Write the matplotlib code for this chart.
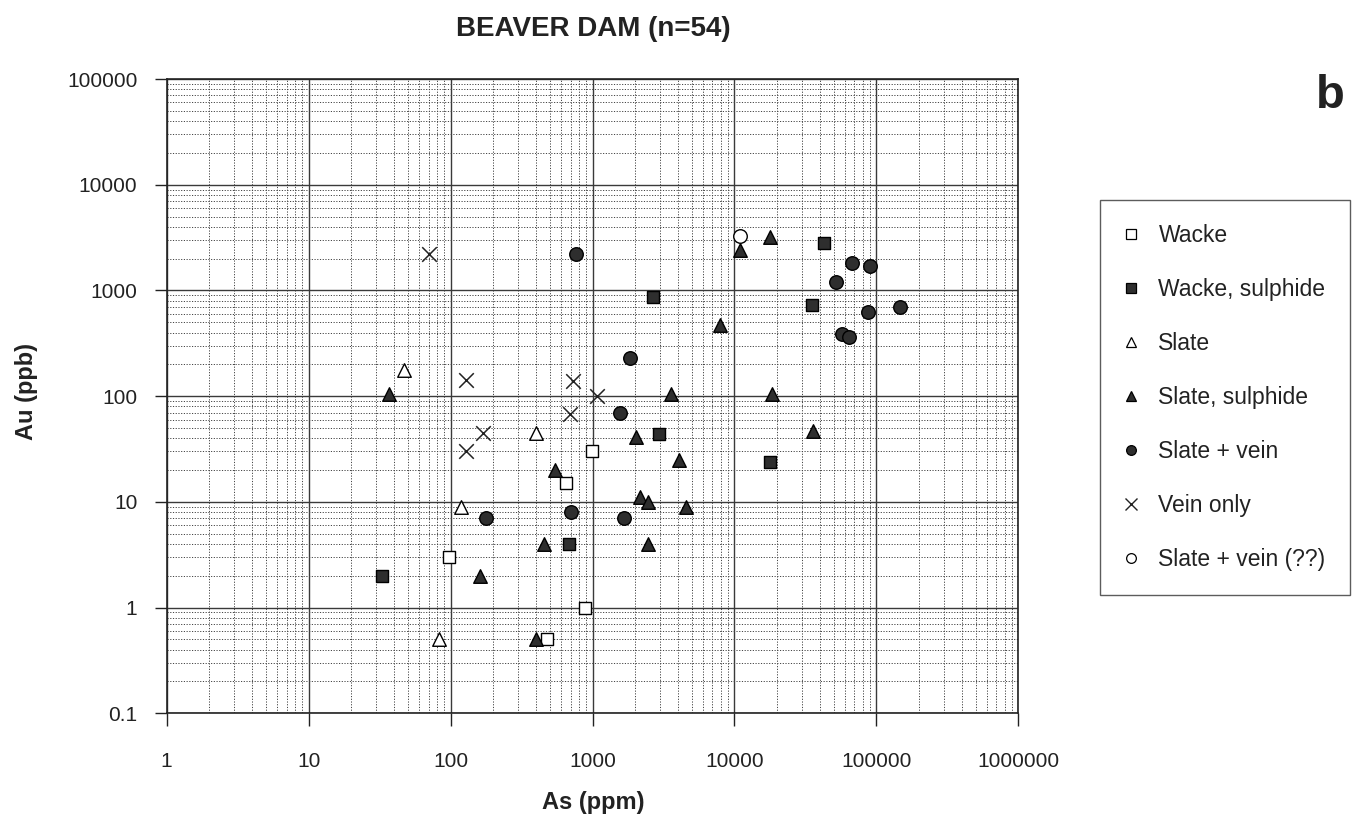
import numpy as np
import matplotlib
matplotlib.use("Agg")
import matplotlib.pyplot as plt
from matplotlib.lines import Line2D
from matplotlib.ticker import FixedLocator, LogLocator, NullFormatter

plt.rcParams['font.family'] = ['Liberation Sans', 'DejaVu Sans']

# data: As (ppm) vs Au (ppb)
wacke_as = [985, 650, 98, 880, 480]
wacke_au = [30, 15, 3, 1, 0.5]
wacke_s_as = [33, 685, 2650, 2930, 17700, 43000, 35400]
wacke_s_au = [2, 4, 870, 44, 24, 2800, 730]
slate_as = [47, 400, 119, 83]
slate_au = [175, 45, 9, 0.5]
slate_s_as = [37, 540, 160, 456, 400, 3600, 18500, 2040, 4100, 36000,
              2150, 2460, 4540, 2460, 7900, 10900, 17700]
slate_s_au = [105, 20, 2, 4, 0.5, 105, 105, 41, 25, 47,
              11, 10, 9, 4, 470, 2400, 3200]
slate_v_as = [760, 177, 700, 1850, 1560, 1670, 67000, 90000, 52000,
              146000, 87000, 57000, 64000]
slate_v_au = [2200, 7, 8, 228, 69, 7, 1800, 1700, 1200, 700, 630, 385, 365]
vein_as = [71, 128, 730, 1070, 128, 168, 690]
vein_au = [2200, 142, 138, 100, 30, 45, 68]
slate_vq_as = [10900]
slate_vq_au = [3250]

x_ticks = [1, 10, 100, 1000, 10000, 100000, 1000000]
x_labels = ['1', '10', '100', '1000', '10000', '100000', '1000000']
y_ticks = [0.1, 1, 10, 100, 1000, 10000, 100000]
y_labels = ['0.1', '1', '10', '100', '1000', '10000', '100000']

dark = '#2e2e2e'

fig = plt.figure(figsize=(13.66, 8.23), dpi=100)
ax = fig.add_axes([0.122, 0.1333, 0.6235, 0.7707])
ax.set_xscale('log')
ax.set_yscale('log')
ax.set_xlim(1, 1e6)
ax.set_ylim(0.1, 1e5)

# grid: solid decades, dotted sub-decades
ax.xaxis.set_major_locator(FixedLocator(x_ticks))
ax.yaxis.set_major_locator(FixedLocator(y_ticks))
ax.xaxis.set_minor_locator(LogLocator(base=10, subs=np.arange(2, 10), numticks=50))
ax.yaxis.set_minor_locator(LogLocator(base=10, subs=np.arange(2, 10), numticks=50))
ax.xaxis.set_minor_formatter(NullFormatter())
ax.yaxis.set_minor_formatter(NullFormatter())
ax.set_xticklabels(x_labels)
ax.set_yticklabels(y_labels)
ax.grid(which='major', color='#3a3a3a', linewidth=1.0, linestyle='-')
ax.grid(which='minor', color='#444444', linewidth=0.7, linestyle=(0, (1.2, 1.6)))
ax.set_axisbelow(True)
ax.tick_params(which='major', direction='out', length=9, width=1.0, labelsize=15, colors='#222222')
ax.tick_params(which='minor', length=0)
ax.tick_params(axis='x', pad=19)
ax.tick_params(axis='y', pad=12)
for sp in ax.spines.values():
    sp.set_linewidth(1.2)
    sp.set_color('#222222')

ax.scatter(wacke_as, wacke_au, marker='s', s=80, facecolor='white', edgecolor='black', linewidth=1, zorder=3)
ax.scatter(wacke_s_as, wacke_s_au, marker='s', s=80, facecolor=dark, edgecolor='black', linewidth=1, zorder=3)
ax.scatter(slate_as, slate_au, marker='^', s=95, facecolor='white', edgecolor='black', linewidth=1, zorder=3)
ax.scatter(slate_s_as, slate_s_au, marker='^', s=95, facecolor=dark, edgecolor='black', linewidth=1, zorder=3)
ax.scatter(slate_v_as, slate_v_au, marker='o', s=95, facecolor=dark, edgecolor='black', linewidth=1, zorder=3)
ax.scatter(vein_as, vein_au, marker='x', s=110, color='#222222', linewidth=1.1, zorder=3)
ax.scatter(slate_vq_as, slate_vq_au, marker='o', s=95, facecolor='white', edgecolor='black', linewidth=1, zorder=3)

# legend with small markers
handles = [
    Line2D([], [], ls='none', marker='s', ms=7, mfc='white', mec='black', mew=0.9),
    Line2D([], [], ls='none', marker='s', ms=7, mfc=dark, mec='black', mew=0.9),
    Line2D([], [], ls='none', marker='^', ms=7, mfc='white', mec='black', mew=0.9),
    Line2D([], [], ls='none', marker='^', ms=7, mfc=dark, mec='black', mew=0.9),
    Line2D([], [], ls='none', marker='o', ms=7, mfc=dark, mec='black', mew=0.9),
    Line2D([], [], ls='none', marker='x', ms=8, mec='#222222', mew=1.0),
    Line2D([], [], ls='none', marker='o', ms=7, mfc='white', mec='black', mew=0.9),
]
names = ['Wacke', 'Wacke, sulphide', 'Slate', 'Slate, sulphide',
         'Slate + vein', 'Vein only', 'Slate + vein (??)']
leg = fig.legend(handles, names, loc='upper left',
                 bbox_to_anchor=(1100 / 1366, 1 - 200 / 823),
                 fontsize=16.5, labelspacing=1.35, borderpad=1.05,
                 handlelength=0.6, handletextpad=0.9, borderaxespad=0,
                 frameon=True, fancybox=False, labelcolor='#222222')
leg.get_frame().set_edgecolor('#333333')
leg.get_frame().set_linewidth(1.0)

fig.text(593 / 1366, 1 - 29 / 823, 'BEAVER DAM (n=54)', ha='center', va='center',
         fontsize=20, fontweight='bold', color='#222222')
fig.text(593 / 1366, 1 - 803 / 823, 'As (ppm)', ha='center', va='center',
         fontsize=17, fontweight='bold', color='#222222')
fig.text(26 / 1366, 1 - 392 / 823, 'Au (ppb)', ha='center', va='center', rotation=90,
         fontsize=17, fontweight='bold', color='#222222')
fig.text(1330 / 1366, 1 - 96 / 823, 'b', ha='center', va='center',
         fontsize=34, fontweight='bold', color='#222222')

fig.savefig('out.png', dpi=100)
